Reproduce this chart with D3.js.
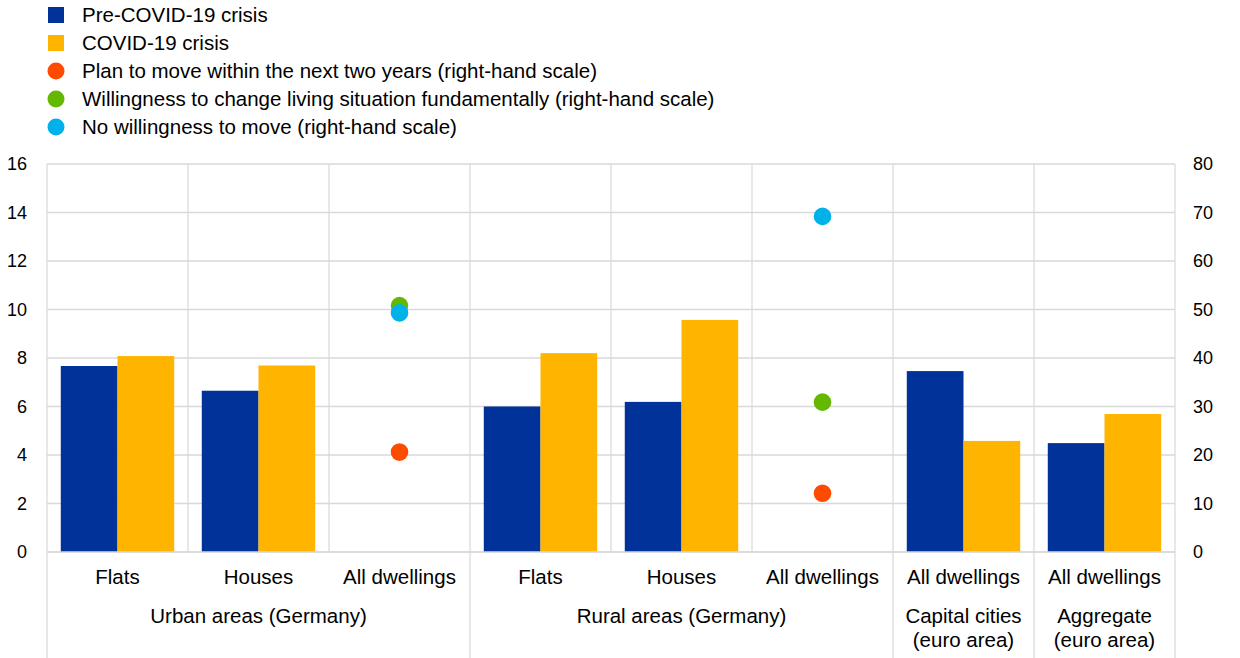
<!DOCTYPE html>
<html><head><meta charset="utf-8">
<script src="https://cdn.jsdelivr.net/npm/d3@7"></script>
<style>body{margin:0;background:#fff}svg{display:block;font-family:"Liberation Sans",Arial,sans-serif}</style>
</head><body><svg id="c" width="1240" height="658"></svg>
<script>
const categories = ["Flats","Houses","All dwellings","Flats","Houses","All dwellings","All dwellings","All dwellings"];
const preCovid = [7.67, 6.65, null, 6.0, 6.19, null, 7.46, 4.49];
const covid = [8.08, 7.69, null, 8.2, 9.57, null, 4.58, 5.69];
const planMove = [null, null, 20.6, null, null, 12.1, null, null];
const willingChange = [null, null, 50.8, null, null, 30.9, null, null];
const noWillingness = [null, null, 49.3, null, null, 69.2, null, null];
const groupLabels = [["Urban areas (Germany)"],["Rural areas (Germany)"],["Capital cities","(euro area)"],["Aggregate","(euro area)"]];
const groupSpans = [[0,2],[3,5],[6,6],[7,7]];
const leftTicks = [0,2,4,6,8,10,12,14,16];
const rightTicks = [0,10,20,30,40,50,60,70,80];
const legendItems = [
  {label:"Pre-COVID-19 crisis", color:"#003299", shape:"rect"},
  {label:"COVID-19 crisis", color:"#FFB400", shape:"rect"},
  {label:"Plan to move within the next two years (right-hand scale)", color:"#FF4B00", shape:"circle"},
  {label:"Willingness to change living situation fundamentally (right-hand scale)", color:"#65B800", shape:"circle"},
  {label:"No willingness to move (right-hand scale)", color:"#00B1EA", shape:"circle"}
];

const svg = d3.select("#c");
const L = 47, R = 1175, T = 164, B = 552;
const FS = 20.5;
const idx = categories.map((d,i)=>i);
const x = d3.scaleBand().domain(idx).range([L,R]).padding(0);
const x1 = d3.scaleBand().domain(["pre","covid"]).range([0,x.bandwidth()]).paddingInner(0).paddingOuter(0.243);
const y = d3.scaleLinear().domain([0,16]).range([B,T]);
const y2 = d3.scaleLinear().domain([0,80]).range([B,T]);
const grid = "#d9d9d9";

svg.append("g").selectAll("line").data(leftTicks).join("line")
  .attr("x1",L).attr("x2",R).attr("y1",d=>y(d)).attr("y2",d=>y(d))
  .attr("stroke",grid).attr("stroke-width",1.5);
const bounds = idx.map(i=>x(i)).concat([R]);
svg.append("g").selectAll("line").data(bounds).join("line")
  .attr("x1",d=>d).attr("x2",d=>d).attr("y1",T).attr("y2",B)
  .attr("stroke",grid).attr("stroke-width",1.2);
const sepIdx = [0,3,6,7];
const seps = sepIdx.map(i=>x(i)).concat([R]);
svg.append("g").selectAll("line").data(seps).join("line")
  .attr("x1",d=>d).attr("x2",d=>d).attr("y1",B).attr("y2",658)
  .attr("stroke",grid).attr("stroke-width",1.2);

const barData = [];
idx.forEach(i=>{
  if(preCovid[i]!=null) barData.push({i,k:"pre",v:preCovid[i],c:"#003299"});
  if(covid[i]!=null) barData.push({i,k:"covid",v:covid[i],c:"#FFB400"});
});
svg.append("g").selectAll("rect").data(barData).join("rect")
  .attr("x",d=>x(d.i)+x1(d.k)).attr("width",x1.bandwidth())
  .attr("y",d=>y(d.v)).attr("height",d=>y(0)-y(d.v)).attr("fill",d=>d.c);

svg.append("line").attr("x1",L).attr("x2",R).attr("y1",B).attr("y2",B).attr("stroke",grid).attr("stroke-width",1.5);

const dotSeries = [[planMove,"#FF4B00"],[willingChange,"#65B800"],[noWillingness,"#00B1EA"]];
dotSeries.forEach(([arr,col])=>{
  svg.append("g").selectAll("circle").data(idx.filter(i=>arr[i]!=null)).join("circle")
    .attr("cx",i=>x(i)+x.bandwidth()/2).attr("cy",i=>y2(arr[i])).attr("r",8.8).attr("fill",col);
});

const ax = d3.axisLeft(y).tickValues(leftTicks).tickSize(0).tickPadding(0);
const gl = svg.append("g").attr("transform",`translate(${L-20},0)`).call(ax);
gl.select(".domain").remove();
gl.selectAll("text").attr("font-size",18).attr("fill","#000").attr("font-family","Liberation Sans, Arial, sans-serif");
const ax2 = d3.axisRight(y2).tickValues(rightTicks).tickSize(0).tickPadding(0);
const gr = svg.append("g").attr("transform",`translate(${R+18},0)`).call(ax2);
gr.select(".domain").remove();
gr.selectAll("text").attr("font-size",18).attr("fill","#000").attr("font-family","Liberation Sans, Arial, sans-serif");

svg.append("g").selectAll("text").data(idx).join("text")
  .attr("x",i=>x(i)+x.bandwidth()/2).attr("y",577).attr("dy","0.35em")
  .attr("text-anchor","middle").attr("font-size",FS).text(i=>categories[i]);
groupLabels.forEach((lines,g)=>{
  const [a,b] = groupSpans[g];
  const cx = (x(a)+x(b)+x.bandwidth())/2;
  lines.forEach((t,k)=>{
    svg.append("text").attr("x",cx).attr("y",616+k*24).attr("dy","0.35em")
      .attr("text-anchor","middle").attr("font-size",FS).text(t);
  });
});

const lg = svg.append("g");
legendItems.forEach((d,k)=>{
  const cy = 15 + k*28;
  if(d.shape==="rect") lg.append("rect").attr("x",48).attr("y",cy-8).attr("width",16).attr("height",16).attr("fill",d.color);
  else lg.append("circle").attr("cx",56).attr("cy",cy).attr("r",8.5).attr("fill",d.color);
  lg.append("text").attr("x",82).attr("y",cy).attr("dy","0.35em").attr("font-size",FS).text(d.label);
});
</script></body></html>
